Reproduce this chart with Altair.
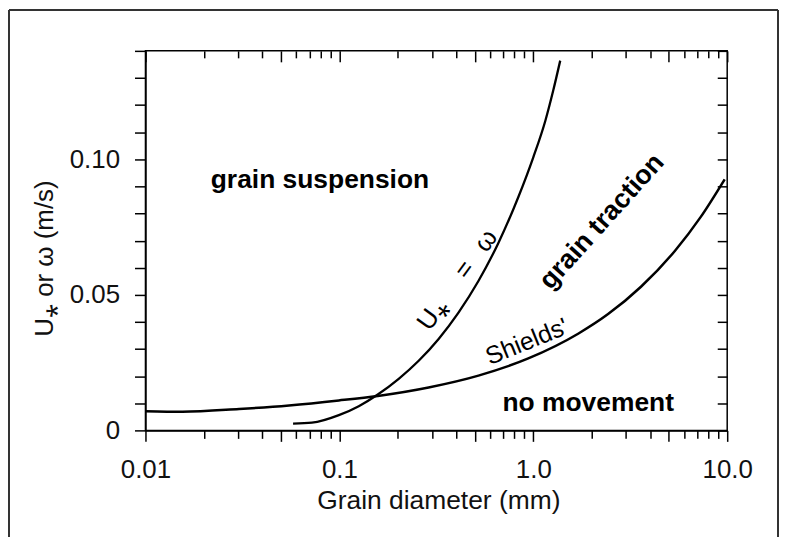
import altair as alt
import pandas as pd

# ---- data ----
# Shields' threshold of movement (grain diameter mm, shear velocity m/s)
shields_d = [0.010, 0.0155, 0.0304, 0.0550, 0.0994, 0.1578, 0.2884, 0.5213, 0.9424, 1.703, 2.431, 3.592, 5.370, 7.306, 9.705]
shields_u = [0.00710, 0.00688, 0.00790, 0.00919, 0.01103, 0.01272, 0.01585, 0.02022, 0.02654, 0.03566, 0.04290, 0.05298, 0.06618, 0.07875, 0.09261]

# U* = settling velocity curve
settle_d = [0.0577, 0.0722, 0.0994, 0.1259, 0.1578, 0.2023, 0.2565, 0.3250, 0.4114, 0.5213, 0.6607, 0.8375, 1.000, 1.153, 1.267, 1.377]
settle_w = [0.00246, 0.00283, 0.00562, 0.00893, 0.01324, 0.01904, 0.02570, 0.03375, 0.04346, 0.05511, 0.06915, 0.08610, 0.10074, 0.11415, 0.12537, 0.13640]

# axis ticks / labels
x_major = [0.01, 0.05, 0.1, 0.5, 1, 5, 10]
x_minor = [0.02, 0.03, 0.04, 0.06, 0.07, 0.08, 0.09,
           0.2, 0.3, 0.4, 0.6, 0.7, 0.8, 0.9,
           2, 3, 4, 6, 7, 8, 9]
x_label_values = [0.01, 0.1, 1, 10]
x_label_text = ["0.01", "0.1", "1.0", "10.0"]
y_ticks = [0, 0.01, 0.02, 0.03, 0.04, 0.05, 0.06, 0.07, 0.08, 0.09, 0.10, 0.11, 0.12, 0.13, 0.14]
y_label_values = [0, 0.05, 0.1]
y_label_text = ["0", "0.05", "0.10"]

# region / curve annotations
region_text = ["grain suspension", "no movement"]
region_x = [0.0794, 1.92]
region_y = [0.0893, 0.0070]

traction_text = ["grain traction"]
traction_x = [2.26]
traction_y = [0.0770]

settle_text = ["U\u204e\u2003\u2009=\u2002\u2009\u03c9"]
settle_tx = [0.406]
settle_ty = [0.0555]

shields_text = ["Shields'"]
shields_tx = [0.960]
shields_ty = [0.0300]

FONT = "Liberation Sans"


def label_expr(vals, texts):
    expr = "''"
    for v, t in reversed(list(zip(vals, texts))):
        expr = f"(abs(datum.value - {v}) < 1e-9 ? '{t}' : {expr})"
    return expr


xs = alt.Scale(type="log", domain=[0.01, 10], nice=False)
ys = alt.Scale(domain=[0, 0.14], nice=False, zero=False)

shields_df = pd.DataFrame({"d": shields_d, "u": shields_u})
settle_df = pd.DataFrame({"d": settle_d, "u": settle_w})

tick_common = dict(grid=False, tickColor="black", tickWidth=1.5)

# main axes (bottom major + left)
ax_main = alt.Chart(shields_df).mark_point(opacity=0, size=1).encode(
    x=alt.X("d:Q", scale=xs, axis=alt.Axis(
        orient="bottom", values=x_major, tickSize=11, domainColor="black", domainWidth=1.5,
        labelExpr=label_expr(x_label_values, x_label_text), labelFont=FONT, labelFontSize=26,
        labelColor="#111", labelPadding=15, labelFlush=False, labelOverlap=False,
        title="Grain diameter (mm)", titleFont=FONT, titleFontSize=26.5, titleFontWeight="normal",
        titleColor="#111", titleX=294, titleY=78, titleBaseline="alphabetic", **tick_common)),
    y=alt.Y("u:Q", scale=ys, axis=alt.Axis(
        orient="left", values=y_ticks, tickSize=11, domainColor="black", domainWidth=1.5,
        labelExpr=label_expr(y_label_values, y_label_text), labelFont=FONT, labelFontSize=26,
        labelColor="#111", labelPadding=15, labelOverlap=False,
        title="U\u204e or \u03c9 (m/s)", titleFont=FONT, titleFontSize=26, titleFontWeight="normal",
        titleColor="#111", titleAngle=270, titleX=-93, titleY=208, titleAlign="center",
        titleBaseline="alphabetic", **tick_common)),
)

ax_bottom_minor = alt.Chart(shields_df).mark_point(opacity=0, size=1).encode(
    x=alt.X("d:Q", scale=xs, axis=alt.Axis(orient="bottom", values=x_minor, tickSize=8,
                                          labels=False, domain=False, title=None, **tick_common)),
    y=alt.Y("u:Q", scale=ys, axis=None),
)
ax_top_major = alt.Chart(shields_df).mark_point(opacity=0, size=1).encode(
    x=alt.X("d:Q", scale=xs, axis=alt.Axis(orient="top", values=x_major, tickSize=11, offset=-11,
                                          labels=False, domain=False, title=None, **tick_common)),
    y=alt.Y("u:Q", scale=ys, axis=None),
)
ax_top_minor = alt.Chart(shields_df).mark_point(opacity=0, size=1).encode(
    x=alt.X("d:Q", scale=xs, axis=alt.Axis(orient="top", values=x_minor, tickSize=7, offset=-7,
                                          labels=False, domain=False, title=None, **tick_common)),
    y=alt.Y("u:Q", scale=ys, axis=None),
)
ax_right = alt.Chart(shields_df).mark_point(opacity=0, size=1).encode(
    x=alt.X("d:Q", scale=xs, axis=None),
    y=alt.Y("u:Q", scale=ys, axis=alt.Axis(orient="right", values=y_ticks, tickSize=10, offset=-10,
                                          labels=False, domain=False, title=None, **tick_common)),
)

shields_line = alt.Chart(shields_df).mark_line(color="black", strokeWidth=2.5, interpolate="monotone").encode(
    x=alt.X("d:Q", scale=xs, axis=None),
    y=alt.Y("u:Q", scale=ys, axis=None),
)
settle_line = alt.Chart(settle_df).mark_line(color="black", strokeWidth=2.3, interpolate="monotone").encode(
    x=alt.X("d:Q", scale=xs, axis=None),
    y=alt.Y("u:Q", scale=ys, axis=None),
)


def text_layer(texts, xv, yv, angle, weight, size, baseline):
    df = pd.DataFrame({"t": texts, "x": xv, "y": yv})
    return alt.Chart(df).mark_text(
        font=FONT, fontSize=size, fontWeight=weight, angle=angle, align="center",
        baseline=baseline, color="black"
    ).encode(
        x=alt.X("x:Q", scale=xs, axis=None),
        y=alt.Y("y:Q", scale=ys, axis=None),
        text="t:N",
    )


t_regions = text_layer(region_text, region_x, region_y, 0, "bold", 26.5, "alphabetic")
t_traction = text_layer(traction_text, traction_x, traction_y, 312, "bold", 27, "middle")
t_settle = text_layer(settle_text, settle_tx, settle_ty, 306, "normal", 26, "middle")
t_shields = text_layer(shields_text, shields_tx, shields_ty, 338, "normal", 25, "alphabetic")

# outer figure frame (left, top, right edges)
frame_df = pd.DataFrame({"k": [0]})
frame_left = alt.Chart(frame_df).mark_rule(color="#333", strokeWidth=2, clip=False).encode(
    x=alt.value(-137), y=alt.value(-41), y2=alt.value(488))
frame_top = alt.Chart(frame_df).mark_rule(color="#333", strokeWidth=2, clip=False).encode(
    x=alt.value(-137), x2=alt.value(635), y=alt.value(-41))
frame_right = alt.Chart(frame_df).mark_rule(color="#333", strokeWidth=2, clip=False).encode(
    x=alt.value(635), y=alt.value(-41), y2=alt.value(488))

chart = alt.layer(
    ax_main, ax_bottom_minor, ax_top_major, ax_top_minor, ax_right,
    shields_line, settle_line,
    t_regions, t_traction, t_settle, t_shields,
    frame_left, frame_top, frame_right,
).resolve_axis(x="independent", y="independent").properties(
    width=584, height=381, padding=0, background="white"
).configure_view(stroke="black", strokeWidth=1.5)

chart.save("out.html", embed_options={"renderer": "svg", "actions": False})
